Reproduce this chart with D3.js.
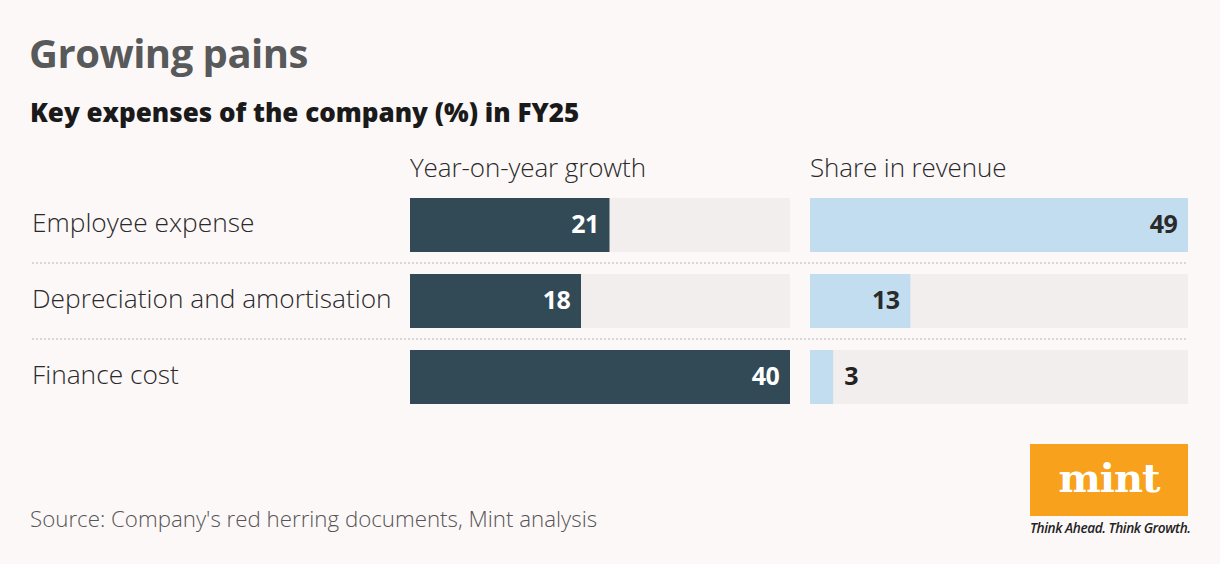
<!DOCTYPE html>
<html>
<head>
<meta charset="utf-8">
<script src="https://cdn.jsdelivr.net/npm/d3@7"></script>
<style>
  html, body { margin: 0; padding: 0; background: #fdf8f8; }
  svg { display: block; }
</style>
</head>
<body>
<script>
const categories = ["Employee expense", "Depreciation and amortisation", "Finance cost"];
const growth = [21, 18, 40];
const share = [49, 13, 3];
const panelTitles = ["Year-on-year growth", "Share in revenue"];
const title = "Growing pains";
const subtitle = "Key expenses of the company (%) in FY25";
const source = "Source: Company's red herring documents, Mint analysis";

const W = 1220, H = 564;
const svg = d3.select("body").append("svg").attr("width", W).attr("height", H);
svg.append("rect").attr("width", W).attr("height", H).attr("fill", "#fdf8f8");

const lightFont = "'Open Sans', 'Noto Sans', sans-serif";

svg.append("text").attr("x", 29).attr("y", 68).text(title)
  .attr("font-family", "'Open Sans', 'Noto Sans', sans-serif").attr("font-weight", 700)
  .attr("font-size", 40).attr("fill", "#58595b").attr("letter-spacing", -0.5);

svg.append("text").attr("x", 30).attr("y", 122).text(subtitle)
  .attr("font-family", "'Open Sans', 'Noto Sans', sans-serif").attr("font-weight", 800)
  .attr("font-size", 26).attr("fill", "#1a1a1a").attr("letter-spacing", 0);

const y = d3.scaleBand().domain(categories).range([198 - 11, 198 + 76 * 3 - 11]).paddingInner(22 / 76).paddingOuter(11 / 76);

const panels = [
  { values: growth, x0: 410, x1: 790, max: 40, fill: "#324956", inText: "#ffffff", outText: "#222" },
  { values: share, x0: 810, x1: 1188, max: 49, fill: "#c1ddef", inText: "#2a2a2a", outText: "#222" }
];

panels.forEach((p, pi) => {
  const x = d3.scaleLinear().domain([0, p.max]).range([p.x0, p.x1]);
  svg.append("text").attr("x", p.x0).attr("y", 177).text(panelTitles[pi])
    .attr("font-family", lightFont).attr("font-weight", 300).attr("font-size", 26).attr("fill", "#2a2a2a")
    .attr("letter-spacing", -0.1);
  const g = svg.append("g");
  g.selectAll("rect.track").data(categories).join("rect").attr("class", "track")
    .attr("x", p.x0).attr("width", p.x1 - p.x0)
    .attr("y", d => y(d)).attr("height", y.bandwidth()).attr("fill", "#f2eeee");
  g.selectAll("rect.bar").data(p.values).join("rect").attr("class", "bar")
    .attr("x", p.x0).attr("width", d => x(d) - p.x0)
    .attr("y", (d, i) => y(categories[i])).attr("height", y.bandwidth()).attr("fill", p.fill);
  g.selectAll("text.val").data(p.values).join("text").attr("class", "val")
    .each(function (d, i) {
      const inside = x(d) - p.x0 > 60;
      d3.select(this)
        .attr("x", inside ? x(d) - 11 : x(d) + 11)
        .attr("text-anchor", inside ? "end" : "start")
        .attr("fill", inside ? p.inText : p.outText);
    })
    .attr("y", (d, i) => y(categories[i]) + y.bandwidth() / 2 + 7.5)
    .attr("font-family", "'Open Sans', 'Noto Sans', sans-serif").attr("font-weight", 700)
    .attr("font-size", 25).attr("letter-spacing", -0.7)
    .text(d => d);
});

svg.selectAll("text.cat").data(categories).join("text").attr("class", "cat")
  .attr("x", 32).attr("y", d => y(d) + y.bandwidth() / 2 + 7)
  .attr("font-family", lightFont).attr("font-weight", 300).attr("font-size", 26.3).attr("fill", "#2a2a2a")
  .text(d => d);

svg.selectAll("line.sep").data(categories.slice(1)).join("line").attr("class", "sep")
  .attr("x1", 32).attr("x2", 1188)
  .attr("y1", d => y(d) - 11).attr("y2", d => y(d) - 11)
  .attr("stroke", "#cfcaca").attr("stroke-width", 1.5).attr("stroke-dasharray", "2,2");

svg.append("text").attr("x", 30).attr("y", 527).text(source)
  .attr("font-family", lightFont).attr("font-weight", 300).attr("font-size", 22.3).attr("fill", "#555");

// logo
svg.append("rect").attr("x", 1030).attr("y", 444).attr("width", 158).attr("height", 72).attr("fill", "#f7a11d");
svg.append("text").attr("x", 1109).attr("y", 492).attr("text-anchor", "middle").text("mint")
  .attr("font-family", "'DejaVu Serif', 'Liberation Serif', serif").attr("font-weight", 700)
  .attr("font-size", 40).attr("fill", "#ffffff").attr("letter-spacing", -1);
svg.append("text").attr("x", 1030).attr("y", 533).text("Think Ahead. Think Growth.")
  .attr("font-family", "'Open Sans', 'Noto Sans', sans-serif").attr("font-style", "italic").attr("font-weight", 600)
  .attr("font-size", 13.6).attr("fill", "#222").attr("letter-spacing", -0.4);
</script>
</body>
</html>
